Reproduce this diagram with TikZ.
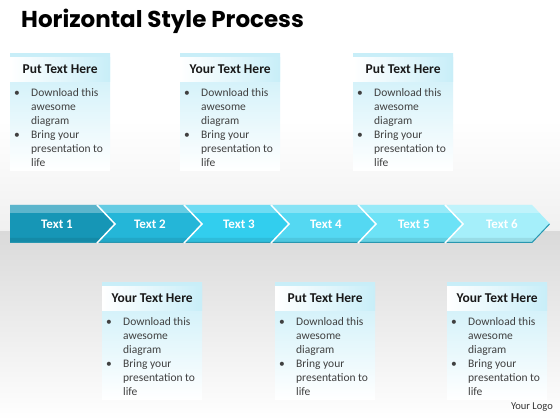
\documentclass[tikz,border=0pt]{standalone}
\usepackage{fontspec}
\setmainfont{Carlito}
\newfontfamily\titlefont{Poppins}
\usepackage{tikz}
\usetikzlibrary{positioning}
\definecolor{boxcyan}{RGB}{200,238,248}
\definecolor{floorgray}{RGB}{218,218,218}
\definecolor{skygray}{RGB}{240,240,240}
\definecolor{bodygray}{RGB}{64,64,64}
\definecolor{segone}{RGB}{22,150,182}
\definecolor{segtwo}{RGB}{36,182,216}
\definecolor{segthree}{RGB}{50,206,238}
\definecolor{segfour}{RGB}{84,216,242}
\definecolor{segfive}{RGB}{108,226,246}
\definecolor{segsix}{RGB}{165,239,250}
\definecolor{edgeteal}{RGB}{40,150,175}
\newcommand\itembullet{\makebox[17pt][l]{\textbullet}}
\newcommand\itemgap{\hspace*{17pt}}
\newcommand\cardtext{\itembullet Download this\\ \itemgap awesome\\ \itemgap diagram\\ \itembullet Bring your\\ \itemgap presentation to\\ \itemgap life}

\begin{document}
\begin{tikzpicture}[
        x=1pt, y=1pt,
        card/.style={rectangle, inner sep=0pt, minimum width=100pt, minimum height=117pt, anchor=north west, top color=boxcyan, bottom color=white},
        heading/.style={rectangle, inner sep=0pt, minimum width=100pt, minimum height=24pt, left color=white, middle color=white, right color=boxcyan, font=\bfseries\fontsize{13.5}{16}\selectfont, text=black!90},
        body/.style={inner sep=0pt, anchor=north west, align=left, text=bodygray, font=\fontsize{11.5}{14}\selectfont},
        separator/.style={draw=white, line width=1.5pt, line join=miter},
        segtext/.style={text=white, font=\bfseries\fontsize{13}{15}\selectfont}
    ]
        
        % Background
        \useasboundingbox (0,0) rectangle (560,420);
        \fill[white] (0,0) rectangle (560,420);
        \shade[top color=white, bottom color=skygray] (0,188) rectangle (560,300);
        \shade[top color=floorgray, bottom color=white] (0,0) rectangle (560,188);
        
        % Title
        \node[anchor=base west, inner sep=0pt, font=\titlefont\bfseries\fontsize{23}{26}\selectfont] (title) at (21,392) {Horizontal Style Process};
        
        % Top cards
        \node[card] (card1) at (10,367) {};
        \node[card] (card2) at (180,367) {};
        \node[card] (card3) at (353,367) {};
        \node[heading, below=4pt of card1.north, anchor=north] (head1) {Put Text Here};
        \node[heading, below=4pt of card2.north, anchor=north] (head2) {Your Text Here};
        \node[heading, below=4pt of card3.north, anchor=north] (head3) {Put Text Here};
        \node[body] (body1) at ([xshift=4pt, yshift=-35pt]card1.north west) {\cardtext};
        \node[body] (body2) at ([xshift=4pt, yshift=-35pt]card2.north west) {\cardtext};
        \node[body] (body3) at ([xshift=4pt, yshift=-35pt]card3.north west) {\cardtext};
        
        % Process arrows
        \fill[segone] (10,215) -- (97,215) -- (115,196) -- (97,177) -- (10,177) -- cycle;
        \fill[segtwo] (97,215) -- (184,215) -- (202,196) -- (184,177) -- (97,177) -- (115,196) -- cycle;
        \fill[segthree] (184,215) -- (271,215) -- (289,196) -- (271,177) -- (184,177) -- (202,196) -- cycle;
        \fill[segfour] (271,215) -- (358,215) -- (376,196) -- (358,177) -- (271,177) -- (289,196) -- cycle;
        \fill[segfive] (358,215) -- (445,215) -- (463,196) -- (445,177) -- (358,177) -- (376,196) -- cycle;
        \fill[segsix] (445,215) -- (532,215) -- (550,196) -- (532,177) -- (445,177) -- (463,196) -- cycle;
        
        % Gloss and edges
        \fill[white, opacity=0.3] (10,215) -- (532,215) -- (539.6,207) -- (10,207) -- cycle;
        \fill[black, opacity=0.08] (10,182) -- (536.7,182) -- (532,177) -- (10,177) -- cycle;
        \draw[edgeteal, line width=1pt] (10,177.5) -- (532,177.5) -- (549.5,196);
        \draw[separator] (97,215) -- (115,196) -- (97,177);
        \draw[separator] (184,215) -- (202,196) -- (184,177);
        \draw[separator] (271,215) -- (289,196) -- (271,177);
        \draw[separator] (358,215) -- (376,196) -- (358,177);
        \draw[separator] (445,215) -- (463,196) -- (445,177);
        
        % Arrow labels
        \node[segtext] (text1) at (57,196) {Text 1};
        \node[segtext] (text2) at (150,196) {Text 2};
        \node[segtext] (text3) at (239,196) {Text 3};
        \node[segtext] (text4) at (326,196) {Text 4};
        \node[segtext] (text5) at (414,196) {Text 5};
        \node[segtext] (text6) at (502,196) {Text 6};
        
        % Bottom cards
        \node[card] (card4) at (102,138) {};
        \node[card] (card5) at (275,138) {};
        \node[card] (card6) at (447,138) {};
        \node[heading, below=4pt of card4.north, anchor=north] (head4) {Your Text Here};
        \node[heading, below=4pt of card5.north, anchor=north] (head5) {Put Text Here};
        \node[heading, below=4pt of card6.north, anchor=north] (head6) {Your Text Here};
        \node[body] (body4) at ([xshift=4pt, yshift=-35pt]card4.north west) {\cardtext};
        \node[body] (body5) at ([xshift=4pt, yshift=-35pt]card5.north west) {\cardtext};
        \node[body] (body6) at ([xshift=4pt, yshift=-35pt]card6.north west) {\cardtext};
        
        % Logo
        \node[anchor=east, inner sep=0pt, text=black!80, font=\fontsize{10.5}{12}\selectfont] (logo) at (553,13) {Your Logo};
        
    \end{tikzpicture}
\end{document}
